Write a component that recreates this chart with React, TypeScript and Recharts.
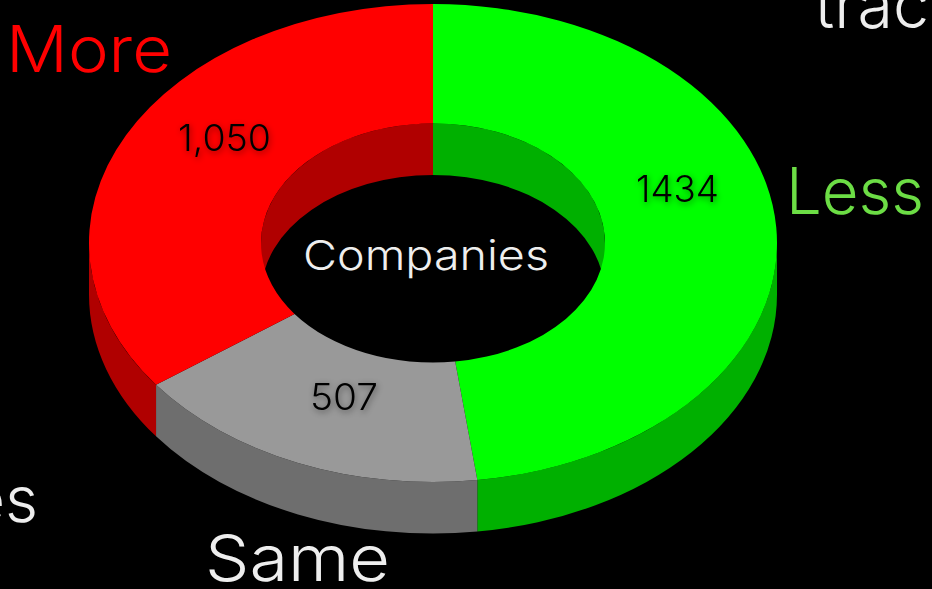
import React from 'react';
import { Pie, PieChart } from 'recharts';

const categories = ['Less', 'Same', 'More'];
const companyCounts = [1434, 507, 1050];
const countLabels = ['1434', '507', '1,050'];

const TOP_COLORS = ['#00FF00', '#999999', '#FF0000'];
const WALL_COLORS = ['#00B000', '#6E6E6E', '#B00000'];

const chartData = categories.map((name, i) => ({
  name,
  value: companyCounts[i],
  fill: TOP_COLORS[i],
}));

const WIDTH = 932;
const HEIGHT = 589;
const CX = 433;
const CY = 243;
const TILT = 0.695; // vertical squash of the ring
const DEPTH = 51.5;

const FONT = 'Inter, "Noto Sans", sans-serif';

type LabelPos = { x: number; y: number; w: number; size: number };

const COUNT_POS: LabelPos[] = [
  { x: 636, y: 202, w: 83, size: 37 },
  { x: 310, y: 410, w: 68, size: 37 },
  { x: 178, y: 151, w: 93, size: 37 },
];

const NAME_POS: LabelPos[] = [
  { x: 786, y: 214, w: 138, size: 64 },
  { x: 205, y: 581, w: 185, size: 64 },
  { x: 6, y: 72, w: 166, size: 64 },
];

const NAME_COLORS = ['#6CDD45', '#EEEEEE', '#FF0000'];

const point = (angle: number, r: number, dy = 0) => {
  const rad = (angle * Math.PI) / 180;
  return [CX + r * Math.cos(rad), CY - r * TILT * Math.sin(rad) + dy];
};

// arc from a1 down to a2 (clockwise on screen), or back up when reversed
const arc = (a1: number, a2: number, r: number, dy = 0) => {
  const [x, y] = point(a2, r, dy);
  const large = Math.abs(a1 - a2) > 180 ? 1 : 0;
  const sweep = a1 > a2 ? 1 : 0;
  return `A${r} ${r * TILT} 0 ${large} ${sweep} ${x} ${y}`;
};

const band = (a1: number, a2: number, r: number) => {
  const [x, y] = point(a1, r);
  const [bx, by] = point(a2, r, DEPTH);
  return `M${x} ${y}${arc(a1, a2, r)}L${bx} ${by}${arc(a2, a1, r, DEPTH)}Z`;
};

// keeps the part of [end, start] that falls inside [lo, hi]
const clip = (start: number, end: number, lo: number, hi: number) => {
  const a1 = Math.min(start, hi);
  const a2 = Math.max(end, lo);
  return a1 > a2 ? [a1, a2] : null;
};

const RingSlice = (props: any) => {
  const { startAngle, endAngle, innerRadius, outerRadius, fill, index } = props;
  const wall = WALL_COLORS[index];

  const outer = clip(startAngle, endAngle, -180, 0);
  const inner = [clip(startAngle, endAngle, 0, 180), clip(startAngle, endAngle, -360, -180)];

  const [sx, sy] = point(startAngle, outerRadius);
  const [ix, iy] = point(endAngle, innerRadius);
  const top =
    `M${sx} ${sy}${arc(startAngle, endAngle, outerRadius)}` +
    `L${ix} ${iy}${arc(endAngle, startAngle, innerRadius)}Z`;

  return (
    <g>
      {outer && <path d={band(outer[0], outer[1], outerRadius)} fill={wall} />}
      {inner.map(
        (seg, i) => seg && <path key={i} d={band(seg[0], seg[1], innerRadius)} fill={wall} />,
      )}
      <path d={top} fill={fill} />
    </g>
  );
};

const SliceLabel = (props: any) => {
  const { index } = props;
  const count = COUNT_POS[index];
  const title = NAME_POS[index];
  return (
    <g>
      <text
        x={count.x}
        y={count.y}
        textLength={count.w}
        lengthAdjust='spacingAndGlyphs'
        fontFamily={FONT}
        fontSize={count.size}
        fontWeight={300}
        fill='#000000'
        style={{ filter: 'drop-shadow(1px 2px 3px rgba(0,0,0,0.45))' }}
      >
        {countLabels[index]}
      </text>
      <text
        x={title.x}
        y={title.y}
        textLength={title.w}
        lengthAdjust='spacingAndGlyphs'
        fontFamily={FONT}
        fontSize={title.size}
        fontWeight={300}
        fill={NAME_COLORS[index]}
      >
        {categories[index]}
      </text>
    </g>
  );
};

const App = () => (
  <div
    style={{
      position: 'fixed',
      left: 0,
      top: 0,
      width: WIDTH,
      height: HEIGHT,
      background: '#000000',
      overflow: 'hidden',
    }}
  >
    <PieChart width={WIDTH} height={HEIGHT} margin={{ top: 0, right: 0, bottom: 0, left: 0 }}>
      <Pie
        data={chartData}
        dataKey='value'
        cx={CX}
        cy={CY}
        innerRadius={172}
        outerRadius={344}
        startAngle={90}
        endAngle={-270}
        stroke='none'
        shape={RingSlice}
        label={SliceLabel}
        labelLine={false}
        isAnimationActive={false}
      />
      <text
        x={303}
        y={270}
        textLength={246}
        lengthAdjust='spacingAndGlyphs'
        fontFamily={FONT}
        fontSize={41}
        fontWeight={300}
        fill='#EEEEEE'
      >
        Companies
      </text>
      <text
        x={815}
        y={28}
        textLength={114}
        lengthAdjust='spacingAndGlyphs'
        fontFamily={FONT}
        fontSize={66}
        fontWeight={300}
        fill='#EEEEEE'
      >
        trac
      </text>
      <text
        x={38}
        y={522}
        textAnchor='end'
        fontFamily={FONT}
        fontSize={64}
        fontWeight={300}
        fill='#EEEEEE'
      >
        es
      </text>
    </PieChart>
  </div>
);

export default App;
